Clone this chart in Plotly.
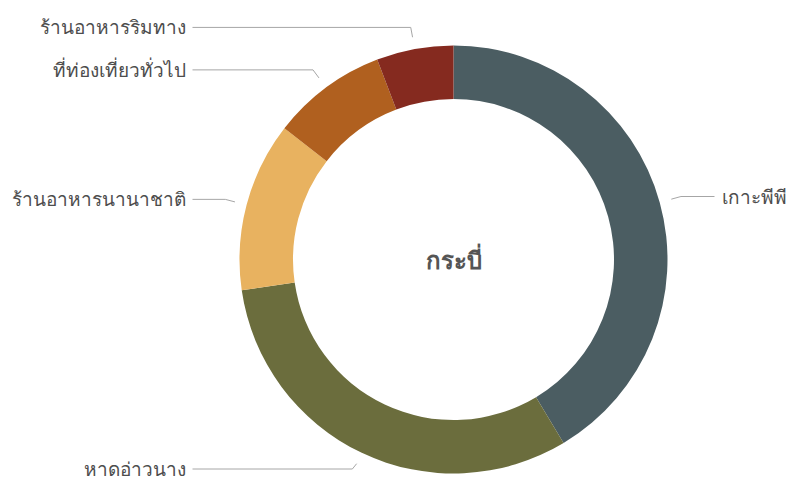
import math
import plotly.graph_objects as go

# Krabi: share of mentions by topic
categories = ["เกาะพีพี", "หาดอ่าวนาง", "ร้านอาหารนานาชาติ", "ที่ท่องเที่ยวทั่วไป", "ร้านอาหารริมทาง"]
values = [41.4, 31.3, 12.8, 8.7, 5.8]
colors = ["#4b5d62", "#6b6d3d", "#e8b260", "#b0601f", "#852a1f"]
center_title = "กระบี่"

W, H = 794, 481
CX, CY, R = 453.5, 259.5, 214.0
HOLE = 0.75
TOUCH_PAD, BREAK_PAD, LABEL_PAD = 12, 22, 52
LABEL_Y_MAX = H - 12
FONT = "Noto Sans, DejaVu Sans, sans-serif"

fig = go.Figure()
fig.add_trace(go.Pie(
    labels=categories, values=values, sort=False, direction="clockwise", rotation=0,
    hole=HOLE, marker=dict(colors=colors, line=dict(width=0)),
    textinfo="none", hoverinfo="label+percent", showlegend=False,
    domain=dict(x=[(CX - R) / W, (CX + R) / W], y=[1 - (CY + R) / H, 1 - (CY - R) / H]),
))

# connectors and labels placed from each slice's mid angle
total = sum(values)
annotations = []
cum = 0.0
for name, v in zip(categories, values):
    mid = (cum + v / 2) / total * 2 * math.pi
    cum += v
    s, c = math.sin(mid), math.cos(mid)
    tx, ty = CX + (R + TOUCH_PAD) * s, CY - (R + TOUCH_PAD) * c
    bx, by = CX + (R + BREAK_PAD) * s, min(CY - (R + BREAK_PAD) * c, LABEL_Y_MAX)
    right = s >= 0
    lx = CX + (R + LABEL_PAD) * (1 if right else -1)
    line_start = lx + (-5 if right else 5)
    fig.add_trace(go.Scatter(
        x=[line_start, bx, tx], y=[by, by, ty], mode="lines",
        line=dict(color="#a6a6a6", width=1), hoverinfo="skip", showlegend=False,
        xaxis="x", yaxis="y",
    ))
    annotations.append(dict(
        x=lx, y=by, xref="x", yref="y", text=name, showarrow=False,
        xanchor="left" if right else "right", yanchor="middle",
        font=dict(size=19, color="#4d4d4d", family=FONT),
    ))

annotations.append(dict(
    x=CX, y=CY, xref="x", yref="y", text="<b>" + center_title + "</b>", showarrow=False,
    xanchor="center", yanchor="middle",
    font=dict(size=24, color="#555555", family=FONT),
))

fig.update_layout(
    width=W, height=H, margin=dict(l=0, r=0, t=0, b=0),
    paper_bgcolor="white", plot_bgcolor="rgba(0,0,0,0)",
    xaxis=dict(range=[0, W], visible=False, fixedrange=True),
    yaxis=dict(range=[H, 0], visible=False, fixedrange=True),
    annotations=annotations,
)

fig.write_html("out.html")
